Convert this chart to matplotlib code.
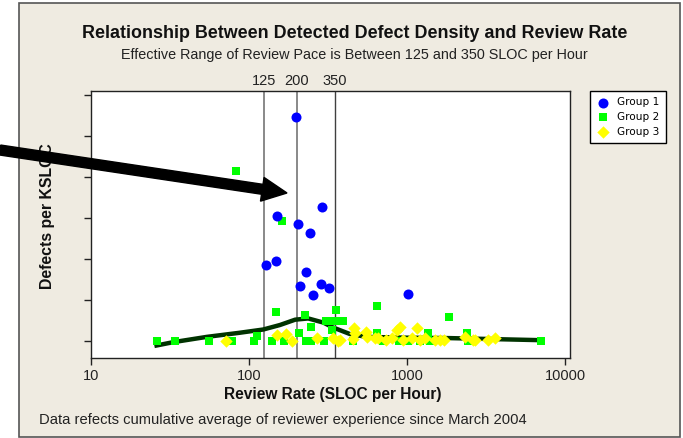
import matplotlib
matplotlib.use('Agg')
import matplotlib.pyplot as plt
from matplotlib.patches import Rectangle, FancyArrow
from matplotlib.transforms import IdentityTransform

# Review rate (SLOC/hour) and defect density (in tick units) per group
g1_x = [198, 291, 151, 203, 243, 148, 129, 230, 210, 284, 321, 253, 1019]
g1_y = [5.47, 3.26, 3.04, 2.85, 2.64, 1.96, 1.85, 1.68, 1.35, 1.38, 1.30, 1.11, 1.15]

g2_x = [83, 162, 148, 227, 355, 247, 305, 326, 359, 395, 333, 207, 112,
        26, 34, 56, 78, 108, 139, 167, 230, 247, 300, 643, 1853, 643, 1352,
        2390, 7000, 457, 709, 889, 1019, 1207, 1400, 2443]
g2_y = [4.15, 2.93, 0.71, 0.64, 0.76, 0.35, 0.49, 0.49, 0.49, 0.49, 0.28, 0.20, 0.12,
        0, 0, 0, 0, 0, 0, 0, 0, 0, 0, 0.86, 0.59, 0.20, 0.19,
        0.19, 0, 0, 0, 0, 0, 0, 0, 0]

g3_x = [72, 151, 171, 186, 268, 342, 365, 377, 465, 457, 548, 627, 470, 555,
        658, 740, 800, 860, 900, 940, 1070, 1160, 1210, 1300, 1500, 1610, 1720,
        2340, 2600, 2700, 3260, 3600]
g3_y = [0, 0.15, 0.16, 0, 0.08, 0.07, 0, 0.02, 0.31, 0.04, 0.21, 0.07, 0.19, 0.10,
        0.07, 0.02, 0.07, 0.27, 0.35, 0.02, 0.07, 0.31, 0.02, 0.07, 0.02, 0.02, 0.02,
        0.10, 0.02, 0.02, 0.02, 0.07]

# smoothed trend
fit_x = [26, 33, 54, 87, 123, 157, 196, 237, 295, 340, 435, 555, 1000, 1870, 6980]
fit_y = [-0.11, -0.03, 0.10, 0.20, 0.28, 0.39, 0.52, 0.55, 0.45, 0.33, 0.17, 0.10, 0.08, 0.07, 0.02]

ref_lines = [125, 200, 350]
x_ticks = [10, 100, 1000, 10000]
y_ticks = [0, 1, 2, 3, 4, 5, 6]

W, H = 683, 438
plt.rcParams['font.family'] = ['Liberation Sans', 'DejaVu Sans']

fig = plt.figure(figsize=(W / 100, H / 100), dpi=100, facecolor='white')

def fx(px):
    return px / W

def fy(py):
    return 1 - py / H

# beige panel
fig.patches.append(Rectangle((fx(19), fy(437)), fx(680) - fx(19), fy(3) - fy(437),
                             transform=fig.transFigure, facecolor='#efebe1',
                             edgecolor='#555555', linewidth=1.2, zorder=-5))

ax = fig.add_axes([fx(91), fy(358), fx(570) - fx(91), fy(91) - fy(358)])
ax.set_facecolor('white')
ax.set_xscale('log')
ax.set_xlim(10, 10755)
ax.set_ylim(-0.415, 6.098)

for i, r in enumerate(ref_lines):
    ax.axvline(r, color='#808080' if i < 2 else '#404040',
               linewidth=1.3 if i < 2 else 1.0, zorder=1)
    ax.text(r, 1.012, str(r), transform=ax.get_xaxis_transform(), ha='center', va='bottom',
            fontsize=10.5, color='#222222')

ax.plot(fit_x, fit_y, color='#003300', linewidth=3.2, zorder=2)
ax.scatter(g2_x, g2_y, marker='s', s=36, color='#00ff00', linewidths=0, zorder=3, label='Group 2')
ax.scatter(g3_x, g3_y, marker='D', s=40, color='#ffff00', linewidths=0, zorder=4, label='Group 3')
ax.scatter(g1_x, g1_y, marker='o', s=52, color='#0000ff', linewidths=0, zorder=5, label='Group 1')

ax.set_xticks(x_ticks)
ax.set_xticklabels([str(t) for t in x_ticks], fontsize=10.5, color='#222222')
ax.xaxis.set_minor_locator(matplotlib.ticker.NullLocator())
ax.set_yticks(y_ticks)
ax.set_yticklabels([])
ax.tick_params(direction='out', length=5, width=1, color='#222222', pad=3)
for s in ax.spines.values():
    s.set_color('#222222')
    s.set_linewidth(1)

handles, labels = ax.get_legend_handles_labels()
order = [2, 0, 1]
leg = ax.legend([handles[i] for i in order], [labels[i] for i in order],
                loc='upper left', bbox_to_anchor=(fx(590), fy(91)), bbox_transform=fig.transFigure,
                fancybox=False, edgecolor='black', framealpha=1, fontsize=7.6,
                borderpad=0.6, handletextpad=0.7, labelspacing=0.45, handlelength=1.3,
                borderaxespad=0)
leg.get_frame().set_linewidth(1)
for t in leg.get_texts():
    t.set_family('DejaVu Sans')

fig.text(fx(355), fy(33), 'Relationship Between Detected Defect Density and Review Rate',
         ha='center', va='center', fontsize=12.9, fontweight='bold', color='#111111')
fig.text(fx(354), fy(55), 'Effective Range of Review Pace is Between 125 and 350 SLOC per Hour',
         ha='center', va='center', fontsize=10.4, color='#222222')
fig.text(fx(333), fy(394), 'Review Rate (SLOC per Hour)', ha='center', va='center',
         fontsize=11.2, fontweight='bold', color='#111111')
fig.text(fx(48), fy(216), 'Defects per KSLOC', ha='center', va='center', rotation=90,
         fontsize=11.4, fontweight='bold', color='#111111')
fig.text(fx(39), fy(420), 'Data refects cumulative average of reviewer experience since March 2004',
         ha='left', va='center', fontsize=10.65, color='#222222')

# the big pointer arrow, in pixel coordinates
x0, y0 = 0, 150
x1, y1 = 287, 193
fig.patches.append(FancyArrow(x0, H - y0, x1 - x0, -(y1 - y0), width=10, head_width=24,
                              head_length=25, length_includes_head=True,
                              color='black', transform=IdentityTransform(), zorder=10))

fig.savefig('out.png', dpi=100, facecolor='white')
